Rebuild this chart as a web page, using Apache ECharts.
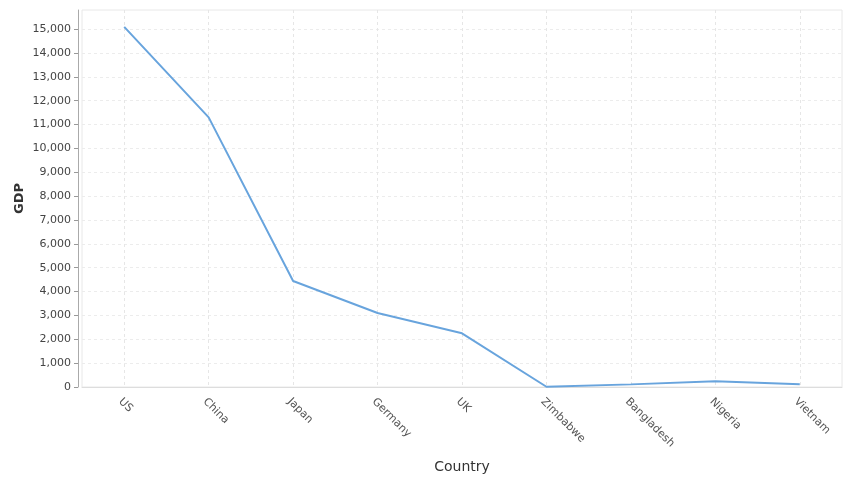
<!DOCTYPE html>
<html>
<head>
<meta charset="utf-8">
<script src="https://cdn.jsdelivr.net/npm/echarts@6/dist/echarts.min.js"></script>
<style>html,body{margin:0;padding:0;background:#fff}#c{width:854px;height:480px}</style>
</head>
<body>
<div id="c"></div>
<script>
const countries = ['US','China','Japan','Germany','UK','Zimbabwe','Bangladesh','Nigeria','Vietnam'];
const gdp = [15094, 11300, 4440, 3100, 2250, 10, 110, 240, 120];
const yTicks = [0,1000,2000,3000,4000,5000,6000,7000,8000,9000,10000,11000,12000,13000,14000,15000];

const chart = echarts.init(document.getElementById('c'), null, {renderer:'canvas'});
const font = 'DejaVu Sans';
chart.setOption({
  animation: false,
  grid: {left: 82, right: 12, top: 10, bottom: 93, show: true, borderColor: '#e8e8e8', borderWidth: 1,
    containLabel: false, outerBoundsMode: 'none'},
  xAxis: {
    type: 'category',
    data: countries,
    boundaryGap: true,
    offset: 4,
    name: 'Country',
    nameLocation: 'middle',
    nameGap: 69,
    nameMoveOverlap: false,
    nameTextStyle: {fontFamily: font, fontSize: 14, color: '#333'},
    axisLine: {lineStyle: {color: '#ddd'}},
    axisTick: {alignWithLabel: true, length: 4, lineStyle: {color: '#999'}},
    axisLabel: {rotate: -45, fontFamily: font, fontSize: 11, color: '#555', margin: 5, verticalAlign: 'top'},
    splitLine: {show: true, alignWithLabel: true, lineStyle: {type: [3,3], color: '#e6e6e6'}}
  },
  yAxis: {
    type: 'value',
    min: 0,
    max: 15800,
    offset: 4,
    name: 'GDP',
    nameLocation: 'middle',
    nameGap: 52,
    nameMoveOverlap: false,
    nameTextStyle: {fontFamily: font, fontSize: 13, color: '#333', fontWeight: 'bold'},
    axisLine: {show: true, lineStyle: {color: '#aaa'}},
    axisTick: {show: true, length: 4, lineStyle: {color: '#999'}, customValues: yTicks},
    axisLabel: {fontFamily: font, fontSize: 11, color: '#444', margin: 7, customValues: yTicks,
      formatter: v => v.toLocaleString('en-US')},
    splitLine: {show: true, lineStyle: {type: [3,3], color: '#ececec'}}
  },
  series: [{
    type: 'line',
    data: gdp,
    showSymbol: false,
    symbol: 'none',
    lineStyle: {color: '#68a4dd', width: 2},
    itemStyle: {color: '#68a4dd'}
  }]
});
</script>
</body>
</html>
